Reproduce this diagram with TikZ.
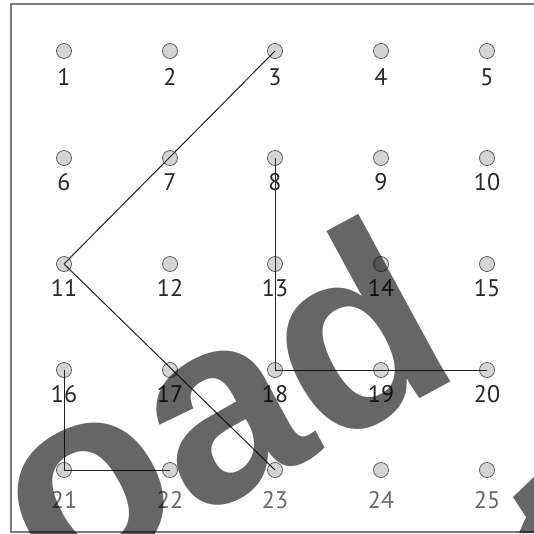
\documentclass[tikz,border=0pt]{standalone}
\usepackage{fontspec}
\setmainfont{PT Sans}
\newfontfamily\wmfont{Liberation Sans}
\definecolor{dotfill}{RGB}{212,212,214}
\definecolor{dotedge}{RGB}{95,95,95}
\definecolor{lbldark}{RGB}{40,40,40}
\definecolor{lbllight}{RGB}{105,105,105}
\definecolor{linkc}{RGB}{35,35,35}
\definecolor{framec}{RGB}{125,125,125}
\begin{document}
\begin{tikzpicture}[x=1pt,y=-1pt,
  dot/.style={circle,draw=dotedge,fill=dotfill,line width=0.8pt,minimum size=15pt,inner sep=0pt},
  lbl/.style={font=\fontsize{24}{24}\selectfont,inner sep=0pt},
  link/.style={draw=linkc,line width=1pt},
  framestyle/.style={draw=framec,line width=1.2pt},
  wm/.style={anchor=base,rotate=28.5,font=\wmfont\bfseries\fontsize{264}{264}\selectfont,text=black,text opacity=0.6,inner sep=0pt},
  wmshape/.style={fill=black,fill opacity=0.6}]
\useasboundingbox (0,0) rectangle (534,533);
\fill[white] (0,0) rectangle (534,533);
\foreach \r/\cy/\ly/\lc in {0/51/77/lbldark,1/158/182/lbldark,2/264/288/lbldark,3/370/394/lbldark,4/470/500/lbllight}{
  \foreach \c/\cx in {0/64,1/170,2/275,3/381,4/487}{
    \pgfmathtruncatemacro\n{\r*5+\c+1}
    \node[dot] (d\n) at (\cx,\cy) {};
    \node[lbl,text=\lc] (l\n) at (\cx,\ly) {\n};
  }
}
\draw[link] (d3.center) -- (d11.center) -- (d23.center);
\draw[link] (d8.center) -- (d18.center) -- (d20.center);
\draw[link] (d16.center) -- (d21.center) -- (d22.center);
\draw[framestyle] (534,4) -- (11,4) -- (11,532) -- (534,532);
\begin{scope}
\clip (0,0) rectangle (534,533);
\node[wm] (wmtext) at (259.5,485.6) {oad};
\fill[wmshape] (534,477) -- (513,497) -- (526,517) -- (519,533) -- (534,533) -- cycle;
\end{scope}
\end{tikzpicture}
\end{document}
